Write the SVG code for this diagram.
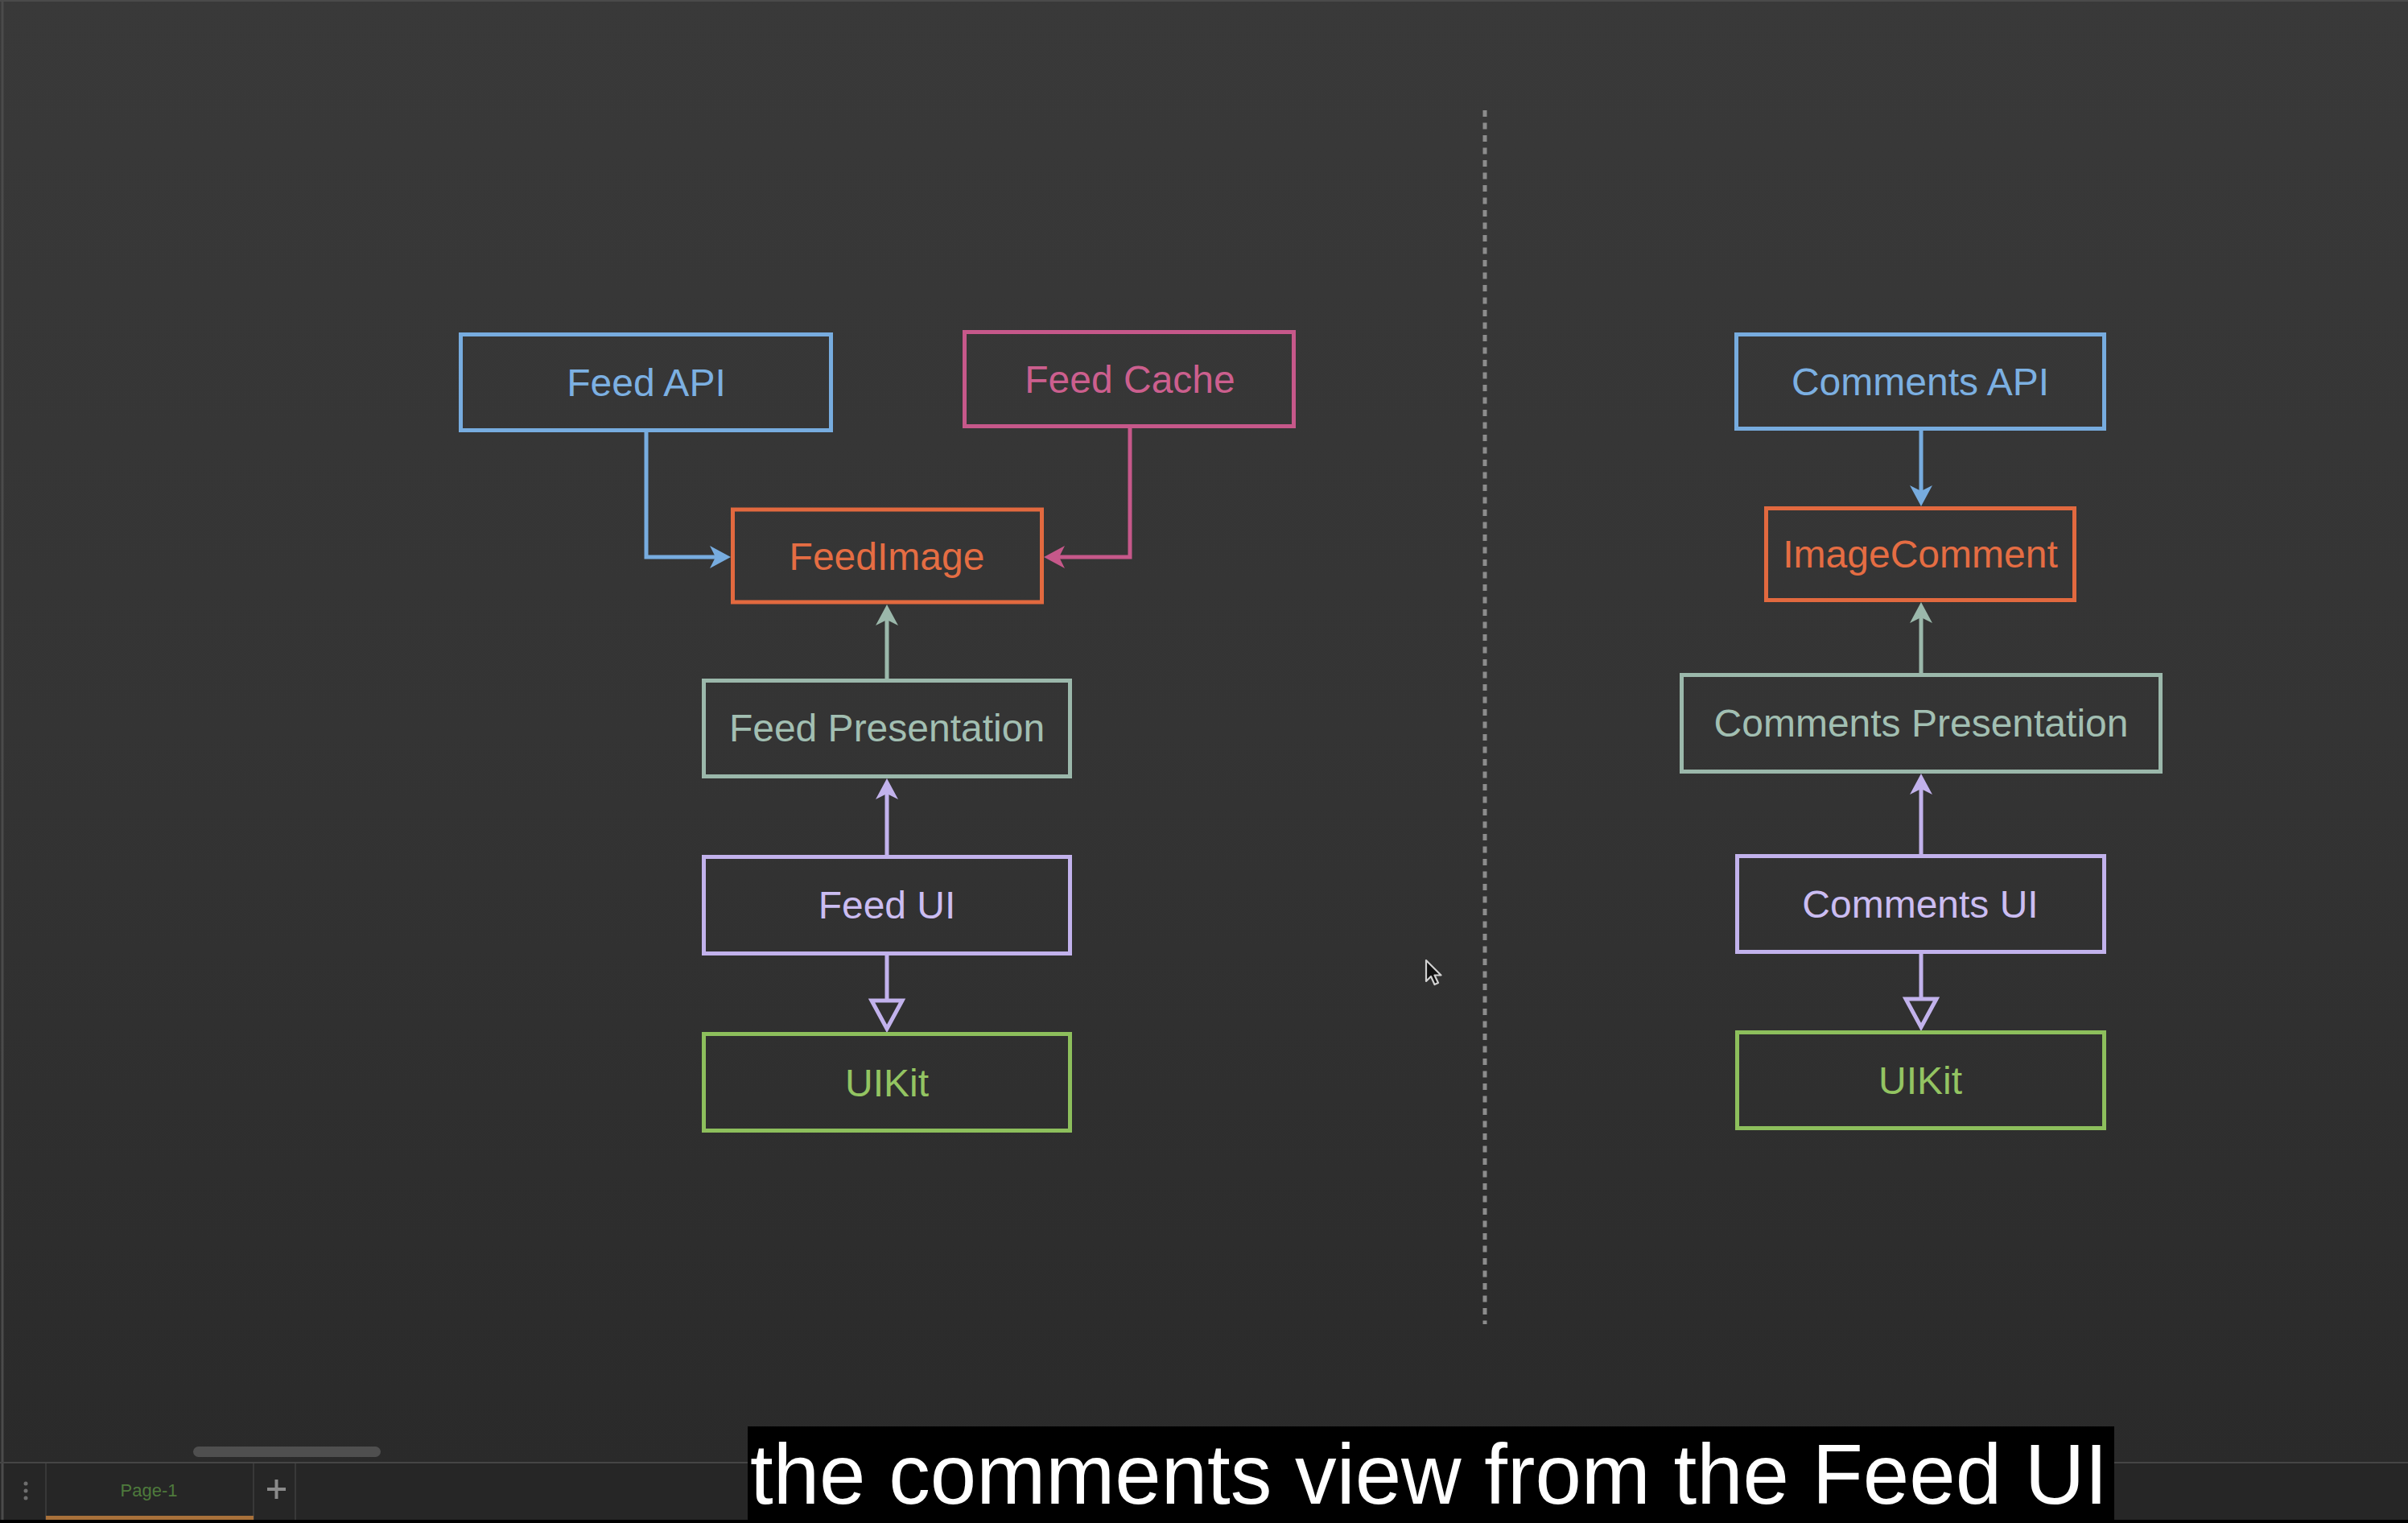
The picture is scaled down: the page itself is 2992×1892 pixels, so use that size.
<svg xmlns="http://www.w3.org/2000/svg" width="2992" height="1892" viewBox="0 0 2992 1892">
  <style>
    .node rect { fill: none; stroke-width: 5; }
    .node text { font-family: "Liberation Sans", Arial, Helvetica, sans-serif; font-size: 48px; text-anchor: middle; }
    .blue rect { stroke: #77acdf; } .blue text { fill: #7cb0e2; }
    .pink rect { stroke: #c6588a; } .pink text { fill: #cc5f8e; }
    .orange rect { stroke: #e2693f; } .orange text { fill: #e56d43; }
    .teal rect { stroke: #9bb8ab; } .teal text { fill: #a2bfb2; }
    .purple rect { stroke: #c2b2ec; } .purple text { fill: #cbbdf2; }
    .green rect { stroke: #8dbf5c; } .green text { fill: #93c462; }
    .conn path { fill: none; stroke-width: 5; }
    .ui text { font-family: "Liberation Sans", Arial, sans-serif; }
  </style>
  <defs>
    <linearGradient id="bg" x1="0" y1="0" x2="0" y2="1">
      <stop offset="0" stop-color="#393939"/>
      <stop offset="0.5" stop-color="#343434"/>
      <stop offset="1" stop-color="#2a2a2a"/>
    </linearGradient>
    <marker id="aBlue" markerUnits="userSpaceOnUse" viewBox="-10 -16 32 32" markerWidth="32" markerHeight="32" refX="0" refY="0" orient="auto">
      <path d="M19,0 L-7,-14 L0,0 L-7,14 Z" fill="#77acdf"/>
    </marker>
    <marker id="aPink" markerUnits="userSpaceOnUse" viewBox="-10 -16 32 32" markerWidth="32" markerHeight="32" refX="0" refY="0" orient="auto">
      <path d="M19,0 L-7,-14 L0,0 L-7,14 Z" fill="#c6588a"/>
    </marker>
    <marker id="aTeal" markerUnits="userSpaceOnUse" viewBox="-10 -16 32 32" markerWidth="32" markerHeight="32" refX="0" refY="0" orient="auto">
      <path d="M19,0 L-7,-14 L0,0 L-7,14 Z" fill="#9bb8ab"/>
    </marker>
    <marker id="aPurple" markerUnits="userSpaceOnUse" viewBox="-10 -16 32 32" markerWidth="32" markerHeight="32" refX="0" refY="0" orient="auto">
      <path d="M19,0 L-7,-14 L0,0 L-7,14 Z" fill="#c2b2ec"/>
    </marker>
    <marker id="tPurple" markerUnits="userSpaceOnUse" viewBox="-4 -24 46 48" markerWidth="46" markerHeight="48" refX="0" refY="0" orient="auto">
      <path d="M0,-19 L35,0 L0,19 Z" fill="#313131" stroke="#c2b2ec" stroke-width="5" stroke-linejoin="miter"/>
    </marker>
  </defs>

  <!-- background -->
  <rect x="0" y="0" width="2992" height="1817" fill="url(#bg)"/>
  <line x1="0" y1="1" x2="2992" y2="1" stroke="#4a4a4a" stroke-width="2"/>
  <line x1="3" y1="0" x2="3" y2="1888" stroke="#4b4b4b" stroke-width="3"/>

  <!-- divider -->
  <line x1="1845" y1="137" x2="1845" y2="1645" stroke="#8c8c8c" stroke-width="5" stroke-dasharray="8 7.5"/>

  <!-- connectors -->
  <g id="connectors" class="conn">
    <path d="M803,535 V692 H889" stroke="#77acdf" marker-end="url(#aBlue)"/>
    <path d="M1404,530 V692 H1316" stroke="#c6588a" marker-end="url(#aPink)"/>
    <path d="M1102,845 V770" stroke="#9bb8ab" marker-end="url(#aTeal)"/>
    <path d="M1102,1064 V986" stroke="#c2b2ec" marker-end="url(#aPurple)"/>
    <path d="M1102,1187 V1243" stroke="#c2b2ec" marker-end="url(#tPurple)"/>
    <path d="M2387,533 V610" stroke="#77acdf" marker-end="url(#aBlue)"/>
    <path d="M2387,838 V767" stroke="#9bb8ab" marker-end="url(#aTeal)"/>
    <path d="M2387,1063 V980" stroke="#c2b2ec" marker-end="url(#aPurple)"/>
    <path d="M2387,1185 V1241" stroke="#c2b2ec" marker-end="url(#tPurple)"/>
  </g>

  <!-- left column -->
  <g id="feed-api" class="node blue">
    <rect x="572.5" y="415.5" width="460" height="119"/>
    <text x="803" y="492">Feed API</text>
  </g>
  <g id="feed-cache" class="node pink">
    <rect x="1198.5" y="412.5" width="409" height="117"/>
    <text x="1404" y="488">Feed Cache</text>
  </g>
  <g id="feed-image" class="node orange">
    <rect x="910.5" y="633" width="384" height="115"/>
    <text x="1102" y="708">FeedImage</text>
  </g>
  <g id="feed-presentation" class="node teal">
    <rect x="874.5" y="845.5" width="455" height="119"/>
    <text x="1102" y="921">Feed Presentation</text>
  </g>
  <g id="feed-ui" class="node purple">
    <rect x="874.5" y="1064.5" width="455" height="120"/>
    <text x="1102" y="1141">Feed UI</text>
  </g>
  <g id="uikit-left" class="node green">
    <rect x="874.5" y="1284.5" width="455" height="120"/>
    <text x="1102" y="1362">UIKit</text>
  </g>

  <!-- right column -->
  <g id="comments-api" class="node blue">
    <rect x="2157.5" y="415.5" width="457" height="117"/>
    <text x="2386" y="491">Comments API</text>
  </g>
  <g id="image-comment" class="node orange">
    <rect x="2194.5" y="631.5" width="383" height="114"/>
    <text x="2386" y="705">ImageComment</text>
  </g>
  <g id="comments-presentation" class="node teal">
    <rect x="2089.5" y="838.5" width="595" height="120"/>
    <text x="2387" y="915">Comments Presentation</text>
  </g>
  <g id="comments-ui" class="node purple">
    <rect x="2158.5" y="1063.5" width="456" height="119"/>
    <text x="2386" y="1140">Comments UI</text>
  </g>
  <g id="uikit-right" class="node green">
    <rect x="2158.5" y="1282.5" width="456" height="119"/>
    <text x="2386" y="1359">UIKit</text>
  </g>

  <!-- mouse cursor -->
  <path d="M1772,1193 L1772,1219 L1778,1213 L1782.5,1223 L1787,1221 L1782.5,1211.5 L1790.5,1211.5 Z" fill="#111" stroke="#d0d0d0" stroke-width="2.2" stroke-linejoin="round"/>

  <!-- bottom bar -->
  <g class="ui">
    <rect x="240" y="1797" width="233" height="13" rx="6.5" fill="#4f4f4f"/>
    <rect x="0" y="1818" width="2992" height="70" fill="#262626"/>
    <line x1="0" y1="1817" x2="2992" y2="1817" stroke="#454545" stroke-width="2"/>
    <line x1="3" y1="1818" x2="3" y2="1888" stroke="#4b4b4b" stroke-width="3"/>
    <line x1="57" y1="1818" x2="57" y2="1888" stroke="#383838" stroke-width="2"/>
    <line x1="315" y1="1818" x2="315" y2="1888" stroke="#383838" stroke-width="2"/>
    <line x1="367" y1="1818" x2="367" y2="1888" stroke="#383838" stroke-width="2"/>
    <circle cx="32" cy="1843" r="2.5" fill="#6e6e6e"/>
    <circle cx="32" cy="1852" r="2.5" fill="#6e6e6e"/>
    <circle cx="32" cy="1861" r="2.5" fill="#6e6e6e"/>
    <text x="185" y="1859" font-size="22" fill="#4e7a3c" text-anchor="middle">Page-1</text>
    <rect x="57" y="1883" width="258" height="5" fill="#a8713a"/>
    <line x1="332" y1="1850" x2="355" y2="1850" stroke="#8a8a8a" stroke-width="4"/>
    <line x1="343.5" y1="1838" x2="343.5" y2="1862" stroke="#8a8a8a" stroke-width="4"/>
    <rect x="0" y="1888" width="2992" height="4" fill="#000"/>
  </g>

  <!-- caption -->
  <rect x="929" y="1772" width="1698" height="120" fill="#000"/>
  <text x="932" y="1868" font-family="'Liberation Sans', Arial, sans-serif" font-size="106" fill="#ffffff" textLength="1687" lengthAdjust="spacingAndGlyphs">the comments view from the Feed UI</text>
</svg>
